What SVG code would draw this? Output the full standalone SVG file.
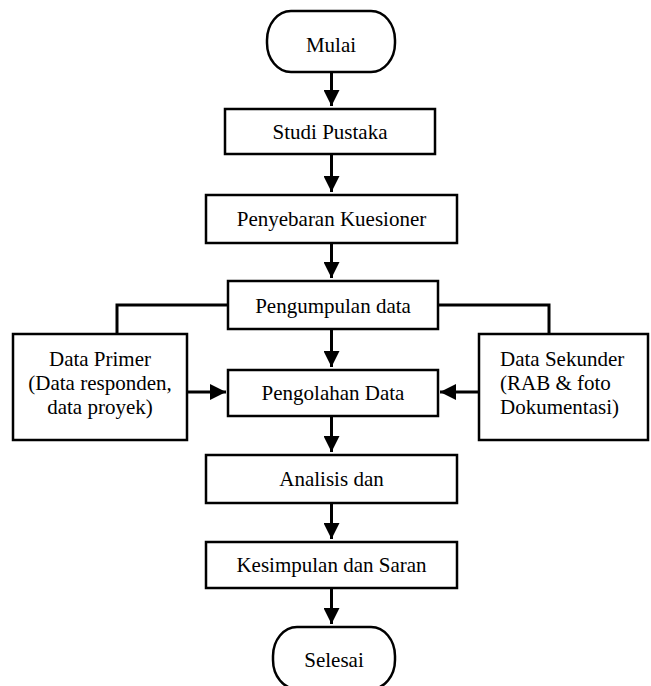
<svg xmlns="http://www.w3.org/2000/svg" width="651" height="686" viewBox="0 0 651 686">
  <style>
    .box { fill: #ffffff; stroke: #000000; stroke-width: 2.5; }
    .t { font-family: "Liberation Serif", "Times New Roman", serif; font-size: 21px; fill: #000000; }
    .c { text-anchor: middle; }
    .ln { fill: none; stroke: #000000; stroke-width: 3; }
  </style>
  <defs>
    <marker id="ah" markerUnits="userSpaceOnUse" markerWidth="16" markerHeight="16" viewBox="0 0 14 14" refX="14" refY="7" orient="auto">
      <path d="M0,0 L14,7 L0,14 Z" fill="#000000"/>
    </marker>
  </defs>
  <rect x="0" y="0" width="651" height="686" fill="#ffffff"/>

  <g id="connectors">
    <line class="ln" x1="331.5" y1="72" x2="331.5" y2="106" marker-end="url(#ah)"/>
    <line class="ln" x1="331.5" y1="154" x2="331.5" y2="192" marker-end="url(#ah)"/>
    <line class="ln" x1="331.5" y1="243" x2="331.5" y2="278" marker-end="url(#ah)"/>
    <line class="ln" x1="331.5" y1="329" x2="331.5" y2="367" marker-end="url(#ah)"/>
    <line class="ln" x1="331.5" y1="416" x2="331.5" y2="452" marker-end="url(#ah)"/>
    <line class="ln" x1="331.5" y1="503" x2="331.5" y2="539" marker-end="url(#ah)"/>
    <line class="ln" x1="331.5" y1="588" x2="331.5" y2="624" marker-end="url(#ah)"/>
    <polyline class="ln" points="228,305 117,305 117,334"/>
    <polyline class="ln" points="438,305 549,305 549,334"/>
    <line class="ln" x1="187" y1="392" x2="226" y2="392" marker-end="url(#ah)"/>
    <line class="ln" x1="479" y1="392" x2="440" y2="392" marker-end="url(#ah)"/>
  </g>

  <g id="mulai">
    <rect class="box" x="267" y="11" width="128" height="61" rx="24" ry="29"/>
    <text class="t c" x="331" y="52">Mulai</text>
  </g>
  <g id="studi-pustaka">
    <rect class="box" x="225" y="109" width="210" height="45"/>
    <text class="t c" x="330" y="139">Studi Pustaka</text>
  </g>
  <g id="penyebaran-kuesioner">
    <rect class="box" x="206" y="195" width="251" height="48"/>
    <text class="t c" x="331.5" y="226">Penyebaran Kuesioner</text>
  </g>
  <g id="pengumpulan-data">
    <rect class="box" x="228" y="281" width="210" height="48"/>
    <text class="t c" x="333" y="313">Pengumpulan data</text>
  </g>
  <g id="data-primer">
    <rect class="box" x="13" y="334" width="174" height="106"/>
    <text class="t c" x="100" y="366">Data Primer</text>
    <text class="t c" x="100" y="390">(Data responden,</text>
    <text class="t c" x="100" y="414">data proyek)</text>
  </g>
  <g id="pengolahan-data">
    <rect class="box" x="228" y="370" width="210" height="46"/>
    <text class="t c" x="333" y="400">Pengolahan Data</text>
  </g>
  <g id="data-sekunder">
    <rect class="box" x="479" y="334" width="169" height="106"/>
    <text class="t" x="500" y="366">Data Sekunder</text>
    <text class="t" x="500" y="390">(RAB &amp; foto</text>
    <text class="t" x="500" y="414">Dokumentasi)</text>
  </g>
  <g id="analisis-dan">
    <rect class="box" x="206" y="455" width="251" height="48"/>
    <text class="t c" x="331.5" y="486">Analisis dan</text>
  </g>
  <g id="kesimpulan-dan-saran">
    <rect class="box" x="206" y="542" width="251" height="46"/>
    <text class="t c" x="331.5" y="572">Kesimpulan dan Saran</text>
  </g>
  <g id="selesai">
    <rect class="box" x="273" y="627" width="122" height="62" rx="24" ry="29"/>
    <text class="t c" x="334" y="667">Selesai</text>
  </g>
</svg>
